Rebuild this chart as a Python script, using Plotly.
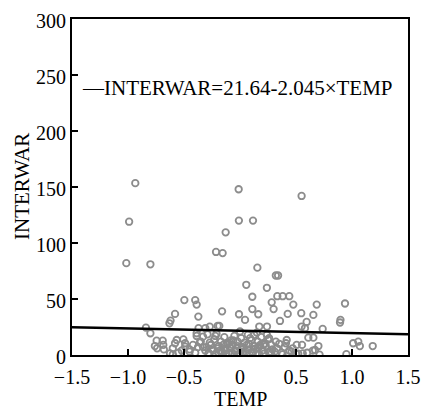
import plotly.graph_objects as go

# Scatter points (TEMP, INTERWAR)
temp = [
    -0.935, -0.012, 0.55, -0.99, -0.01, 0.116, -0.128, -0.214, -0.155, -1.015, -0.80,
    0.155, 0.32, 0.34, 0.056, 0.24, 0.11, 0.333, 0.381, 0.44, -0.497, -0.40, -0.387,
    0.283, 0.476, 0.685, 0.9375, 0.11, 0.30, -0.16, -0.009, 0.163, 0.426, 0.547, 0.655,
    -0.58, -0.372, 0.045, 0.357, 0.595, 0.897, 0.893, -0.62, -0.63, 0.172, 0.241, 0.55,
    0.58, 0.738, -0.84, -0.185, -0.37, -0.31, -0.27, -0.20,
    # lower right
    0.128, 0.61, 0.655, 0.417, 0.506, 0.554, 0.41, 0.70, 0.67, 0.65, 0.71, 1.01, 1.056,
    1.07, 1.185, 0.95, 0.46, 0.52, 0.60,
    # lower left
    -0.80, -0.744, -0.69, -0.685, -0.76, -0.74, -0.68, -0.625, -0.60, -0.58, -0.565,
    -0.506, -0.49, -0.387, -0.33, -0.29, -0.387, -0.49, -0.42, -0.375, -0.33, -0.60,
    -0.55, -0.52, -0.45,
    # dense centre
    -0.28, -0.25, -0.22, -0.19, -0.16, -0.13, -0.10, -0.07, -0.04, -0.01, 0.02, 0.05,
    0.08, 0.11, 0.14, 0.17, 0.20, 0.23, 0.26, 0.29,
    -0.27, -0.23, -0.20, -0.17, -0.14, -0.11, -0.08, -0.05, -0.02, 0.01, 0.04, 0.07,
    0.10, 0.13, 0.16, 0.19, 0.22, 0.25, 0.28, 0.32,
    -0.30, -0.26, -0.21, -0.18, -0.15, -0.12, -0.09, -0.06, -0.03, 0.00, 0.03, 0.06,
    0.09, 0.12, 0.15, 0.18, 0.21, 0.27, 0.33, 0.37,
    -0.24, -0.19, -0.14, -0.09, -0.04, 0.01, 0.06, 0.11, 0.16, 0.21, 0.26, 0.31,
    -0.35, -0.31, -0.26, -0.13, -0.02, 0.08, 0.18, 0.24, 0.35, 0.40, 0.44, 0.50,
    -0.45, -0.40, -0.36, -0.28, -0.22, -0.07, 0.03, 0.14, 0.28, 0.38, 0.47, 0.56,
]
interwar = [
    153.4, 148, 142, 119, 120, 120, 109.5, 92, 91, 82, 81,
    78, 71, 71, 62.7, 60, 52, 52.5, 52.5, 52.5, 49, 49, 45,
    47, 45, 45, 46, 41, 41, 39, 36.4, 36.4, 36.7, 37.3, 35.8,
    36.7, 34.3, 31.3, 30.4, 29.5, 31.3, 29, 30.7, 28.3, 25.4, 25.4, 25.4,
    23.9, 23.3, 24.5, 26, 24, 24, 25.3, 26,
    # lower right
    18, 15.5, 15.5, 13.4, 9, 9, 10.5, 8, 4.5, 3.9, 0.3, 10.5, 12,
    8, 8, 0.8, 3, 1.2, 2,
    # lower left
    19.4, 12.8, 12.8, 9, 8, 6, 5, 1.5, 6, 10.5, 13.4,
    14, 10.5, 19.4, 16.4, 18.5, 17, 7.4, 9, 7, 7, 0.5,
    2, 4, 3,
    # dense centre
    2, 5, 1, 8, 3, 6, 2, 9, 4, 1, 7, 3,
    10, 2, 6, 1, 4, 8, 2, 5,
    11, 14, 6, 12, 16, 10, 13, 17, 12, 15, 11, 18,
    13, 8, 12, 16, 10, 14, 9, 12,
    7, 9, 19, 4, 9, 1, 7, 13, 6, 21, 3, 9,
    15, 5, 20, 8, 1, 3, 6, 2,
    4, 2, 5, 11, 3, 5, 1, 3, 6, 9, 15, 3,
    12, 4, 9, 4, 8, 5, 9, 18, 10, 7, 4, 1,
    5, 2, 11, 1, 17, 1, 0.5, 0.8, 1, 0.5, 6, 1.5,
]

# Regression line: INTERWAR = 21.64 - 2.045 * TEMP
intercept = 21.64
slope = -2.045
line_x = [-1.5, 1.5]
line_y = [intercept + slope * v for v in line_x]

x_tickvals = [-1.5, -1.0, -0.5, 0, 0.5, 1.0, 1.5]
x_ticktext = ["\u22121.5", "\u22121.0", "\u22120.5", "0", "0.5", "1.0", "1.5"]
y_tickvals = [0, 50, 100, 150, 200, 250, 300]

FONT = "Liberation Serif, Times New Roman, serif"

fig = go.Figure()
fig.add_trace(go.Scatter(
    x=temp, y=interwar, mode="markers",
    marker=dict(symbol="circle-open", size=6.5, color="#8c8c8c",
                line=dict(width=1.8, color="#8c8c8c")),
    cliponaxis=True, showlegend=False,
))
fig.add_trace(go.Scatter(
    x=line_x, y=line_y, mode="lines",
    line=dict(color="black", width=2.5), showlegend=False,
))

fig.add_annotation(
    x=0, y=0.795, xref="paper", yref="paper", xanchor="left", yanchor="middle",
    xshift=8, text="\u2014INTERWAR=21.64-2.045\u00d7TEMP", showarrow=False,
    font=dict(family=FONT, size=21, color="black"),
)
# Axis titles
fig.add_annotation(
    x=0.5, y=0, xref="paper", yref="paper", xanchor="center", yanchor="middle",
    yshift=-44, text="TEMP", showarrow=False,
    font=dict(family=FONT, size=20, color="black"),
)
fig.add_annotation(
    x=0, y=0.5, xref="paper", yref="paper", xanchor="center", yanchor="middle",
    xshift=-50, text="INTERWAR", textangle=-90, showarrow=False,
    font=dict(family=FONT, size=21, color="black"),
)

fig.update_layout(
    width=423, height=410,
    margin=dict(l=72, r=15, t=19, b=55),
    paper_bgcolor="white", plot_bgcolor="white",
    font=dict(family=FONT, size=20, color="black"),
)
fig.update_xaxes(
    range=[-1.5, 1.5], tickvals=x_tickvals, ticktext=x_ticktext,
    ticks="inside", ticklen=6, tickwidth=1.5, tickcolor="black",
    showline=True, linecolor="black", linewidth=2, mirror=True,
    showgrid=False, zeroline=False, automargin=False,
    tickfont=dict(family=FONT, size=20), ticklabelstandoff=3,
)
fig.update_yaxes(
    range=[0, 300], tickvals=y_tickvals,
    ticks="inside", ticklen=6, tickwidth=1.5, tickcolor="black",
    showline=True, linecolor="black", linewidth=2, mirror=True,
    showgrid=False, zeroline=False, automargin=False,
    tickfont=dict(family=FONT, size=20), ticklabelshift=2,
)

fig.write_html("out.html")
